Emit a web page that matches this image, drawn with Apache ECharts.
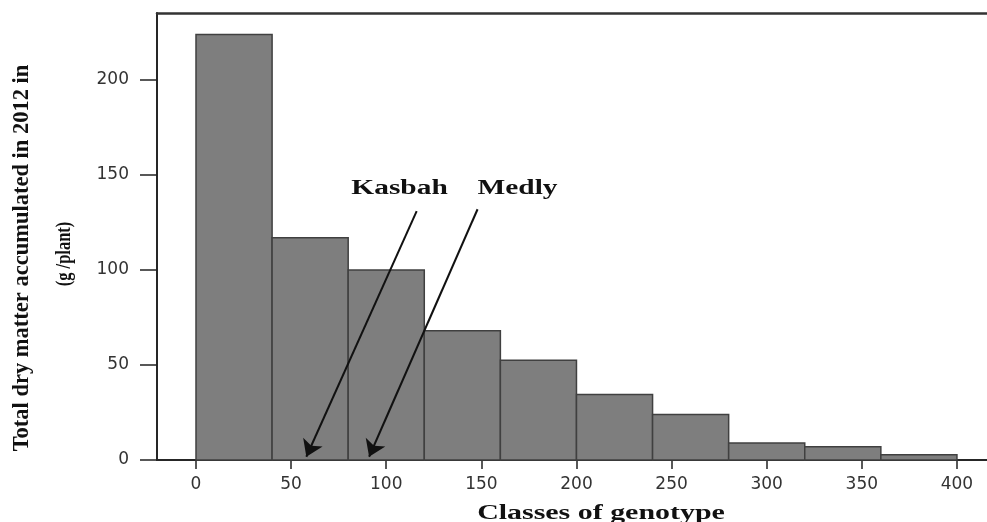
<!DOCTYPE html>
<html><head><meta charset="utf-8">
<script src="https://cdn.jsdelivr.net/npm/echarts@6/dist/echarts.min.js"></script>
<style>html,body{margin:0;padding:0;background:#fff}#c{width:987px;height:522px}</style>
</head><body><div id="c"></div>
<script>
// Histogram bins (classes of genotype) and bar heights
const binStarts = [0, 40, 80, 120, 160, 200, 240, 280, 320, 360];
const binEnds   = [40, 80, 120, 160, 200, 240, 280, 320, 360, 400];
const counts    = [224, 117, 100, 68, 52.5, 34.5, 24, 9, 7, 2.7];
const xTicks = [0, 50, 100, 150, 200, 250, 300, 350, 400];
const yTicks = [0, 50, 100, 150, 200];
// Annotations
const annNames = ['Kasbah', 'Medly'];
const annLabelPos = [[107, 142.5], [169, 142.5]];
const arrowFrom = [[116, 131], [148, 132]];
const arrowTo   = [[58, 1.7], [91, 1.7]];

const chart = echarts.init(document.getElementById('c'));
const barData = binStarts.map((s, i) => [s, binEnds[i], counts[i]]);
const arrowData = arrowFrom.map((f, i) => ({ coords: [f, arrowTo[i]] }));

const axisLineStyle = { color: '#262626', width: 2 };
chart.setOption({
  animation: false,
  backgroundColor: '#fff',
  grid: { left: 157, top: 13, right: 0, bottom: 62 },
  xAxis: [{
    type: 'value', min: -20.5, max: 415.8,
    axisLine: { show: true, onZero: false, lineStyle: axisLineStyle },
    axisTick: { show: true, customValues: xTicks, length: 9, lineStyle: { color: '#222', width: 1.5 } },
    axisLabel: { customValues: xTicks, margin: 16, color: '#333', fontSize: 17, fontFamily: 'DejaVu Sans' },
    splitLine: { show: false }
  }, {
    type: 'value', min: -20.5, max: 415.8, position: 'top',
    axisLine: { show: true, onZero: false, lineStyle: { color: '#333', width: 2.5 } },
    axisTick: { show: false }, axisLabel: { show: false }, splitLine: { show: false }
  }],
  yAxis: {
    type: 'value', min: 0, max: 235.3,
    axisLine: { show: true, onZero: false, lineStyle: axisLineStyle },
    axisTick: { show: true, customValues: yTicks, length: 17, lineStyle: { color: '#222', width: 1.5 } },
    axisLabel: { customValues: yTicks, margin: 28, color: '#333', fontSize: 17, fontFamily: 'DejaVu Sans' },
    splitLine: { show: false }
  },
  series: [
    {
      type: 'custom',
      data: barData,
      encode: { x: [0, 1], y: 2 },
      renderItem: function (params, api) {
        const p1 = api.coord([api.value(0), api.value(2)]);
        const p2 = api.coord([api.value(1), 0]);
        return {
          type: 'rect',
          shape: { x: p1[0], y: p1[1], width: p2[0] - p1[0], height: p2[1] - p1[1] },
          style: { fill: '#7e7e7e', stroke: '#404040', lineWidth: 1.5 }
        };
      },
      z: 2
    },
    {
      type: 'lines',
      coordinateSystem: 'cartesian2d',
      data: arrowData,
      symbol: ['none', 'arrow'],
      symbolSize: 16,
      lineStyle: { color: '#111', width: 2, opacity: 1 },
      z: 5
    }
  ]
});

const texts = annNames.map((n, i) => {
  const p = chart.convertToPixel({ gridIndex: 0 }, annLabelPos[i]);
  return {
    type: 'text', x: p[0], y: p[1], scaleX: 1.47,
    style: { text: n, font: 'bold 20px "Liberation Serif"', fill: '#111', align: 'center', verticalAlign: 'middle' },
    z: 10
  };
});
texts.push({
  type: 'text', x: 22, y: 258, rotation: Math.PI / 2,
  style: { text: 'Total dry matter accumulated in 2012 in', font: 'bold 22.5px "Liberation Serif"', fill: '#111', align: 'center', verticalAlign: 'middle' }
});
texts.push({
  type: 'text', x: 64, y: 254, rotation: Math.PI / 2, scaleX: 0.75,
  style: { text: '(g /plant)', font: 'bold 22px "Liberation Serif"', fill: '#111', align: 'center', verticalAlign: 'middle' }
});
texts.push({
  type: 'text', x: 601, y: 513.5, scaleX: 1.36,
  style: { text: 'Classes of genotype', font: 'bold 22px "Liberation Serif"', fill: '#111', align: 'center', verticalAlign: 'middle' }
});
chart.setOption({ graphic: texts });
</script></body></html>
